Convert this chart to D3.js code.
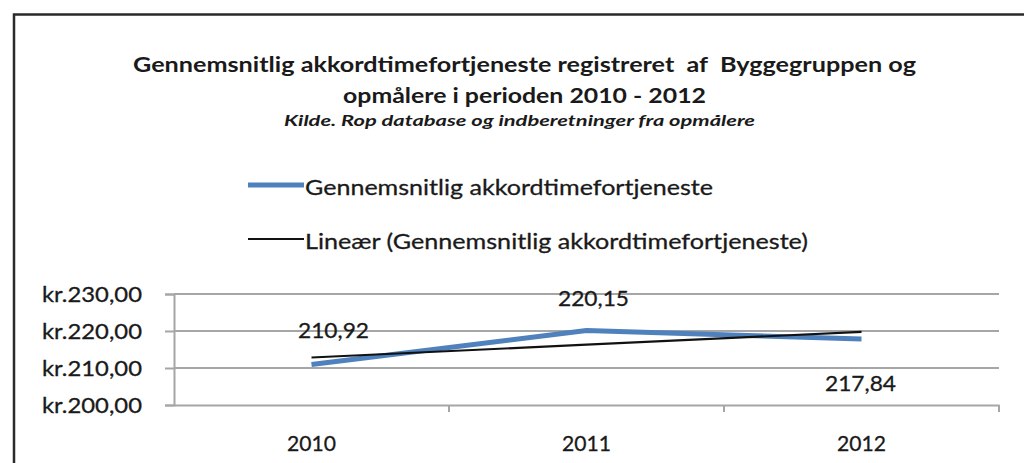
<!DOCTYPE html>
<html>
<head>
<meta charset="utf-8">
<script src="https://cdn.jsdelivr.net/npm/d3@7"></script>
<style>
  html, body { margin: 0; padding: 0; background: #fff; }
  svg { display: block; }
  text { font-family: Lato, "Open Sans", sans-serif; fill: #1a1a1a; }
  text.title { white-space: pre; }
</style>
</head>
<body>
<svg id="chart" width="1024" height="463"></svg>
<script>
// ---- data ----
const categories = ["2010", "2011", "2012"];
const values = [210.92, 220.15, 217.84];
const valueLabels = ["210,92", "220,15", "217,84"];
const yTicks = [200, 210, 220, 230];
const yTickLabels = ["kr.200,00", "kr.210,00", "kr.220,00", "kr.230,00"];
const seriesName = "Gennemsnitlig akkordtimefortjeneste";
const trendName = "Lineær (Gennemsnitlig akkordtimefortjeneste)";
const titleLines = ["Gennemsnitlig akkordtimefortjeneste registreret  af  Byggegruppen og",
                    "opmålere i perioden 2010 - 2012"];
const subtitle = "Kilde. Rop database og indberetninger fra opmålere";

// linear trend (least squares) from the series values
const n = values.length;
const xs = d3.range(n);
const mx = d3.mean(xs), my = d3.mean(values);
const slope = d3.sum(xs, (x, i) => (x - mx) * (values[i] - my)) / d3.sum(xs, x => (x - mx) ** 2);
const trend = xs.map(x => my + slope * (x - mx));

const svg = d3.select("#chart");

// frame
svg.append("path")
  .attr("d", "M14,470 L14,14.5 L1030,14.5")
  .attr("fill", "none").attr("stroke", "#2a2a2a").attr("stroke-width", 2.5);

// titles
const tl = [
  {t: titleLines[0], y: 63, w: 783, size: 21, weight: 700, style: "normal", x: 524.5},
  {t: titleLines[1], y: 94, w: 363, size: 21, weight: 700, style: "normal", x: 524.5},
  {t: subtitle, y: 120, w: 471, size: 15, weight: 700, style: "italic", x: 519.5}
];
svg.selectAll("text.title").data(tl).join("text")
  .attr("class", "title")
  .attr("xml:space", "preserve")
  .attr("x", d => d.x).attr("y", d => d.y)
  .attr("text-anchor", "middle").attr("dominant-baseline", "central")
  .attr("font-size", d => d.size).attr("font-weight", d => d.weight)
  .attr("font-style", d => d.style)
  .attr("textLength", d => d.w).attr("lengthAdjust", "spacingAndGlyphs")
  .text(d => d.t);

// legend
const legend = [
  {name: seriesName, color: "#4f81bd", width: 5, y: 185, w: 408},
  {name: trendName, color: "#111", width: 2.2, y: 239, w: 503}
];
const lg = svg.selectAll("g.leg").data(legend).join("g").attr("class", "leg");
lg.append("line").attr("x1", 248).attr("x2", 304)
  .attr("y1", d => d.y).attr("y2", d => d.y)
  .attr("stroke", d => d.color).attr("stroke-width", d => d.width);
lg.append("text").attr("x", 305).attr("y", d => d.y + 1)
  .attr("dominant-baseline", "central").attr("font-size", 22)
  .attr("textLength", d => d.w).attr("lengthAdjust", "spacingAndGlyphs")
  .style("stroke", "#1a1a1a").style("stroke-width", 0.3)
  .text(d => d.name);

// scales
const plot = {left: 174, right: 999, top: 294, bottom: 405};
const x = d3.scaleBand().domain(categories).range([plot.left, plot.right]);
const y = d3.scaleLinear().domain([200, 230]).range([plot.bottom, plot.top]);

const gridColor = "#a6a6a6";

// gridlines + y axis
const yAxis = d3.axisLeft(y).tickValues(yTicks).tickSize(9).tickFormat((d, i) => yTickLabels[i]);
const gy = svg.append("g").attr("transform", `translate(${plot.left},0)`).call(yAxis);
gy.select(".domain").attr("stroke", gridColor).attr("stroke-width", 2);
gy.selectAll(".tick line").attr("stroke", gridColor).attr("stroke-width", 2);
gy.selectAll(".tick text").attr("x", -32).attr("font-size", 22)
  .attr("font-family", "Lato, sans-serif").attr("fill", "#1a1a1a")
  .style("stroke", "#1a1a1a").style("stroke-width", 0.3)
  .attr("textLength", 100).attr("lengthAdjust", "spacingAndGlyphs");

svg.append("g").selectAll("line").data(yTicks.filter(t => t !== 200)).join("line")
  .attr("x1", plot.left).attr("x2", plot.right)
  .attr("y1", d => y(d)).attr("y2", d => y(d))
  .attr("stroke", gridColor).attr("stroke-width", 2);

// x axis
const xAxis = d3.axisBottom(x).tickSize(0).tickSizeOuter(0);
const gx = svg.append("g").attr("transform", `translate(0,${plot.bottom})`).call(xAxis);
gx.select(".domain").attr("stroke", gridColor).attr("stroke-width", 2);
gx.selectAll(".tick text").attr("dy", null).attr("y", 37)
  .attr("dominant-baseline", "central")
  .attr("font-size", 22).attr("font-family", "Lato, sans-serif").attr("fill", "#1a1a1a")
  .style("stroke", "#1a1a1a").style("stroke-width", 0.3)
  .attr("textLength", 49).attr("lengthAdjust", "spacingAndGlyphs");
// category boundary tick marks
const bounds = categories.map(c => x(c) + x.bandwidth());
svg.append("g").selectAll("line").data(bounds).join("line")
  .attr("x1", d => d).attr("x2", d => d)
  .attr("y1", plot.bottom).attr("y2", plot.bottom + 7)
  .attr("stroke", gridColor).attr("stroke-width", 2);

const cx = c => x(c) + x.bandwidth() / 2;

// data series line
const line = d3.line().x((d, i) => cx(categories[i])).y(d => y(d));
svg.append("path").datum(values).attr("d", line)
  .attr("fill", "none").attr("stroke", "#4f81bd").attr("stroke-width", 5)
  .attr("stroke-linejoin", "round");

// trend line
svg.append("path").datum(trend).attr("d", line)
  .attr("fill", "none").attr("stroke", "#111").attr("stroke-width", 2.2);

// data labels
const labelOffset = [{dx: 22, dy: -35}, {dx: 7, dy: -33}, {dx: -1, dy: 44}];
svg.append("g").selectAll("text").data(values).join("text")
  .attr("x", (d, i) => cx(categories[i]) + labelOffset[i].dx)
  .attr("y", (d, i) => y(d) + labelOffset[i].dy)
  .attr("text-anchor", "middle").attr("dominant-baseline", "central")
  .attr("font-size", 22)
  .style("stroke", "#1a1a1a").style("stroke-width", 0.3)
  .attr("textLength", 71).attr("lengthAdjust", "spacingAndGlyphs")
  .text((d, i) => valueLabels[i]);
</script>
</body>
</html>
